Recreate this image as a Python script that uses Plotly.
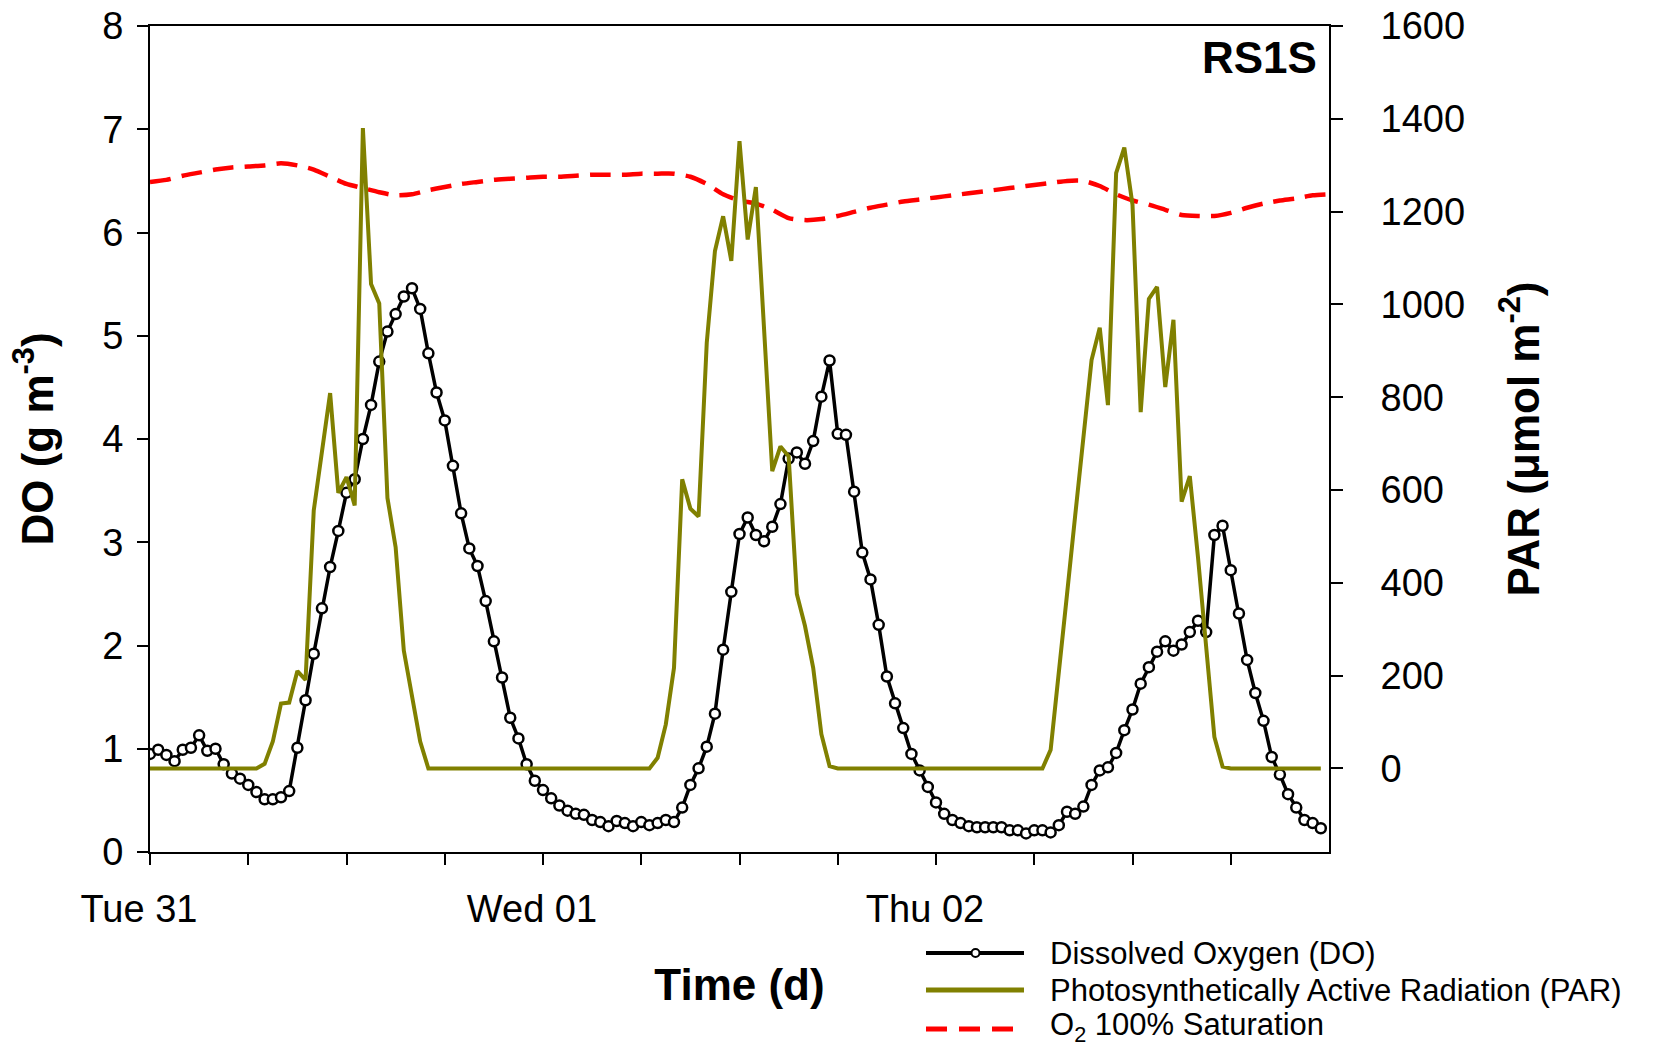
import numpy as np
import plotly.graph_objects as go

# ---------------- data ----------------
# time in hours from Tue 31 00:00, 30-minute sampling
time_h = np.arange(0, 72, 0.5)

do_values = [
    0.95, 0.99, 0.94, 0.88, 0.99, 1.01, 1.13, 0.98, 1.00, 0.85,   # 0 - 4.5
    0.76, 0.71, 0.65, 0.58, 0.51, 0.51, 0.53, 0.59, 1.01, 1.47,   # 5 - 9.5
    1.92, 2.36, 2.76, 3.11, 3.48, 3.61, 4.00, 4.33, 4.75, 5.04,   # 10 - 14.5
    5.21, 5.38, 5.46, 5.26, 4.83, 4.45, 4.18, 3.74, 3.28, 2.94,   # 15 - 19.5
    2.77, 2.43, 2.04, 1.69, 1.30, 1.10, 0.85, 0.69, 0.60, 0.52,   # 20 - 24.5
    0.45, 0.40, 0.37, 0.36, 0.31, 0.29, 0.25, 0.30, 0.28, 0.25,   # 25 - 29.5
    0.29, 0.26, 0.28, 0.31, 0.29, 0.43, 0.65, 0.81, 1.02, 1.34,   # 30 - 34.5
    1.96, 2.52, 3.08, 3.24, 3.07, 3.01, 3.15, 3.37, 3.81, 3.87,   # 35 - 39.5
    3.76, 3.98, 4.41, 4.76, 4.05, 4.04, 3.49, 2.90, 2.64, 2.20,   # 40 - 44.5
    1.70, 1.44, 1.20, 0.95, 0.79, 0.63, 0.48, 0.37, 0.31, 0.28,   # 45 - 49.5
    0.25, 0.24, 0.24, 0.24, 0.24, 0.21, 0.21, 0.18, 0.21, 0.21,   # 50 - 54.5
    0.19, 0.26, 0.39, 0.37, 0.44, 0.65, 0.79, 0.82, 0.96, 1.18,   # 55 - 59.5
    1.38, 1.63, 1.79, 1.94, 2.04, 1.95, 2.01, 2.13, 2.24, 2.13,   # 60 - 64.5
    3.07, 3.16, 2.73, 2.31, 1.86, 1.54, 1.27, 0.92, 0.75, 0.56,   # 65 - 69.5
    0.43, 0.31, 0.28, 0.23,                                       # 70 - 71.5
]

par_values = [
    0, 0, 0, 0, 0, 0, 0, 0, 0, 0, 0, 0, 0, 0,                     # 0 - 6.5
    10, 58, 140, 142, 210, 191, 556, 678, 809, 594,               # 7 - 11.5
    628, 567, 1380, 1044, 1002, 583, 477, 254, 159, 58,           # 12 - 16.5
    0, 0, 0, 0, 0, 0, 0, 0, 0, 0, 0, 0, 0, 0,                     # 17 - 23.5
    0, 0, 0, 0, 0, 0, 0, 0, 0, 0, 0, 0, 0, 0,                     # 24 - 30.5
    23, 95, 217, 623, 560, 543, 917, 1115, 1190, 1094, 1352,      # 31 - 36
    1140, 1253, 954, 641, 694, 673, 376, 307, 217, 74, 5,         # 36.5 - 41.5
    0, 0, 0, 0, 0, 0, 0, 0, 0, 0, 0, 0, 0,                        # 42 - 48
    0, 0, 0, 0, 0, 0, 0, 0, 0, 0, 0, 0, 0,                        # 48.5 - 54.5
    40, 200, 375, 545, 720, 880, 950, 783, 1283, 1338, 1215,      # 55 - 60
    768, 1012, 1038, 822, 967, 575, 630, 455, 265, 68, 4,         # 60.5 - 65.5
    0, 0, 0, 0, 0, 0, 0, 0, 0, 0, 0, 0,                           # 66 - 71.5
]

# 100% saturation, hourly
sat_time_h = np.arange(0, 73, 1)
sat_values = [
    6.49, 6.51, 6.55, 6.58, 6.61, 6.63, 6.64, 6.65, 6.67, 6.65,
    6.61, 6.54, 6.47, 6.43, 6.39, 6.36, 6.37, 6.41, 6.44, 6.47,
    6.49, 6.51, 6.52, 6.53, 6.54, 6.54, 6.55, 6.56, 6.56, 6.56,
    6.57, 6.57, 6.57, 6.54, 6.47, 6.37, 6.31, 6.28, 6.22, 6.14,
    6.12, 6.13, 6.16, 6.20, 6.24, 6.27, 6.30, 6.32, 6.34, 6.36,
    6.38, 6.40, 6.42, 6.44, 6.46, 6.48, 6.50, 6.50, 6.45, 6.37,
    6.31, 6.27, 6.22, 6.17, 6.16, 6.16, 6.19, 6.24, 6.28, 6.31,
    6.33, 6.36, 6.37,
]

x_tick_hours = [0, 24, 48]
x_tick_labels = ["Tue 31", "Wed 01", "Thu 02"]
x_minor_hours = [6, 12, 18, 30, 36, 42, 54, 60, 66]
do_ticks = [0, 1, 2, 3, 4, 5, 6, 7, 8]
par_ticks = [0, 200, 400, 600, 800, 1000, 1200, 1400, 1600]

legend_labels = ["Dissolved Oxygen (DO)",
                 "Photosynthetically Active Radiation (PAR)",
                 "O<sub>2</sub> 100% Saturation"]

# ---------------- styling ----------------
FONT = "Liberation Sans, Arial, Helvetica, sans-serif"
OLIVE = "#808000"
RED = "#FF0000"

W, H = 1670, 1051
ML, MR, MT, MB = 150, 341, 26, 199
PW, PH = W - ML - MR, H - MT - MB


def px_x(px):
    return (px - ML) / PW


def px_y(py):
    return (H - MB - py) / PH


fig = go.Figure()

fig.add_trace(go.Scatter(
    x=time_h, y=do_values, mode="lines+markers", name=legend_labels[0],
    line=dict(color="black", width=3.5),
    marker=dict(symbol="circle", size=10, color="white",
                line=dict(color="black", width=2.5)),
    showlegend=False, yaxis="y"))

fig.add_trace(go.Scatter(
    x=sat_time_h, y=sat_values, mode="lines", name="O2 100% Saturation",
    line=dict(color=RED, width=4.5, dash="21px,11px", shape="spline", smoothing=0.6),
    showlegend=False, yaxis="y"))

fig.add_trace(go.Scatter(
    x=time_h, y=par_values, mode="lines", name=legend_labels[1],
    line=dict(color=OLIVE, width=4),
    showlegend=False, yaxis="y2"))

axis_common = dict(showgrid=False, zeroline=False, showline=True,
                   linecolor="black", linewidth=2, ticks="outside",
                   tickcolor="black", tickwidth=2, automargin=False)

fig.update_layout(
    width=W, height=H,
    margin=dict(l=ML, r=MR, t=MT, b=MB),
    paper_bgcolor="white", plot_bgcolor="white",
    font=dict(family=FONT, color="black"),
    xaxis=dict(
        **axis_common, range=[0, 72], mirror=True, ticklen=11,
        tickmode="array", tickvals=x_tick_hours, ticktext=x_tick_labels,
        minor=dict(tickmode="array", tickvals=x_minor_hours, ticks="outside",
                   ticklen=11, tickwidth=2, tickcolor="black", showgrid=False),
        tickfont=dict(size=38), ticklabelshift=-11, ticklabelstandoff=11,
        title=dict(text="<b>Time (d)</b>", font=dict(size=44), standoff=41),
    ),
    yaxis=dict(
        **axis_common, range=[0, 8], tickmode="array", tickvals=do_ticks,
        ticklen=11, tickfont=dict(size=38), ticklabelstandoff=6,
        title=dict(text="<b>DO (g m<sup>-3</sup>)</b>", font=dict(size=44), standoff=35),
    ),
    yaxis2=dict(
        **axis_common, range=[-180, 1600], overlaying="y", side="right",
        tickmode="array", tickvals=par_ticks, ticklen=12,
        tickfont=dict(size=38), ticklabelstandoff=30,
        title=dict(text="<b>PAR (μmol m<sup>-2</sup>)</b>", font=dict(size=44), standoff=44),
    ),
)

# panel label
annotations = [dict(
    text="<b>RS1S</b>", xref="paper", yref="paper",
    x=px_x(1319), y=px_y(58), xanchor="right", yanchor="middle",
    showarrow=False, font=dict(size=44, family=FONT, color="black"))]

# custom legend (long line samples as in the original)
leg_x0, leg_x1 = 926, 1024
leg_rows = [953, 990, 1029]
text_rows = [953, 990, 1027]
shapes = [
    dict(type="line", xref="paper", yref="paper",
         x0=px_x(leg_x0), x1=px_x(leg_x1), y0=px_y(leg_rows[0]), y1=px_y(leg_rows[0]),
         line=dict(color="black", width=4)),
    dict(type="circle", xref="paper", yref="paper",
         x0=px_x(971.5), x1=px_x(979.5), y0=px_y(leg_rows[0] - 4), y1=px_y(leg_rows[0] + 4),
         fillcolor="white", line=dict(color="black", width=2)),
    dict(type="line", xref="paper", yref="paper",
         x0=px_x(leg_x0), x1=px_x(leg_x1), y0=px_y(leg_rows[1]), y1=px_y(leg_rows[1]),
         line=dict(color=OLIVE, width=5)),
    dict(type="line", xref="paper", yref="paper",
         x0=px_x(leg_x0), x1=px_x(1014), y0=px_y(leg_rows[2]), y1=px_y(leg_rows[2]),
         line=dict(color=RED, width=5, dash="21px,12px")),
]
for label, row in zip(legend_labels, text_rows):
    annotations.append(dict(
        text=label, xref="paper", yref="paper", x=px_x(1048), y=px_y(row),
        xanchor="left", yanchor="middle", showarrow=False,
        font=dict(size=31, family=FONT, color="black")))

fig.update_layout(annotations=annotations, shapes=shapes)

fig.write_html("out.html")
